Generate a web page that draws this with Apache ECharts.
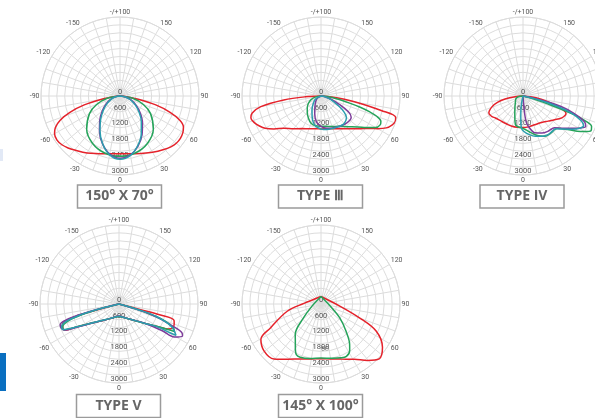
<!DOCTYPE html>
<html>
<head>
<meta charset="utf-8">
<script src="https://cdn.jsdelivr.net/npm/echarts@6/dist/echarts.min.js"></script>
<style>
  html, body { margin: 0; padding: 0; background: #fff; }
  #chart { width: 595px; height: 418px; }
</style>
</head>
<body>
<div id="chart"></div>
<script>
// each curve: [angle in degrees (0 = down, + = right side), intensity in cd]
const p1Red = [[-90,0],[-85,200],[-80,700],[-76,1400],[-72,2000],[-68,2450],[-64,2730],[-60,2870],[-55,2920],[-50,2880],[-45,2790],[-40,2680],[-30,2500],[-20,2330],[-10,2230],[0,2190],[10,2230],[20,2320],[30,2470],[40,2640],[45,2730],[50,2790],[55,2800],[60,2760],[64,2680],[68,2450],[72,2000],[76,1400],[80,700],[85,200],[90,0]];
const p1Green = [[-90,0],[-80,490],[-70,945],[-60,1340],[-45,1790],[-30,2080],[-15,2240],[0,2290],[15,2240],[30,2080],[45,1790],[60,1340],[70,945],[80,490],[90,0]];
const p1Purple = [[-90,0],[-80,185],[-70,384],[-60,610],[-50,876],[-40,1193],[-30,1559],[-20,1937],[-10,2242],[0,2362],[10,2268],[20,2014],[30,1678],[40,1328],[50,1003],[60,713],[70,456],[80,225],[90,0]];
const p1Teal = [[-90,0],[-80,170],[-70,350],[-60,560],[-50,820],[-40,1140],[-30,1520],[-20,1930],[-10,2270],[0,2400],[10,2290],[20,1990],[30,1620],[40,1260],[50,940],[60,660],[70,420],[80,205],[90,0]];

const p2Red = [[-90,0],[-87,600],[-84,1420],[-80,2320],[-76,2700],[-72.6,2790],[-68,2720],[-64,2600],[-60,2450],[-55,2180],[-49,1860],[-40,1620],[-30,1430],[-20,1320],[-10,1260],[0,1250],[10,1260],[20,1320],[30,1430],[40,1620],[50,1930],[57,2270],[60,2480],[64,2760],[68,2920],[71,2980],[74,2950],[76.5,2350],[79.4,1490],[82,900],[85,420],[90,0]];
const p2Green = [[-90,0],[-80,200],[-70,400],[-60,550],[-50,680],[-40,810],[-30,960],[-20,1100],[-10,1150],[0,1150],[10,1170],[20,1230],[30,1330],[40,1520],[50,1830],[55,2080],[60,2400],[64,2500],[67,2470],[70,2250],[72,1930],[74,1550],[76,1120],[80,600],[85,250],[90,0]];
const p2Purple = [[-90,0],[-60,150],[-45,280],[-30,460],[-20,700],[-10,1000],[0,1150],[10,1240],[20,1290],[30,1340],[40,1400],[50,1430],[55,1400],[60,1200],[65,780],[72,400],[80,150],[90,0]];
const p2Teal = [[-90,0],[-60,250],[-45,420],[-33,630],[-20,950],[-10,1170],[0,1250],[10,1290],[20,1310],[30,1340],[38,1370],[45,1330],[50,1260],[55,1080],[60,800],[70,400],[80,150],[90,0]];

const p3Red = [[-90,0],[-85,300],[-80.5,690],[-76,1000],[-71,1240],[-63.5,1450],[-57,1420],[-51.5,1340],[-40,1260],[-30,1230],[-20,1225],[-10,1210],[0,1200],[10,1190],[22,1180],[35,1230],[45,1350],[53,1500],[60,1680],[65,1760],[68,1760],[72,1500],[77,970],[82,500],[90,0]];
const p3Green = [[-90,0],[-80,180],[-70,280],[-60,330],[-48,390],[-40,470],[-30,620],[-22,830],[-15,1120],[-8,1190],[-2,1210],[5,1290],[12,1420],[20,1600],[28,1730],[33,1760],[38,1760],[43,1750],[47,1800],[52,2050],[57,2450],[60,2700],[63,2900],[66,2850],[68,2600],[70,2070],[72,1100],[74,400],[76,0]];
const p3Purple = [[4,0],[5,600],[7,1000],[10,1170],[18,1470],[27,1580],[35,1640],[45,1700],[51,1950],[56,2190],[61,2500],[64,2650],[67,2550],[71,2060],[74.5,1500],[77,800],[80,300],[82,0]];
const p3Teal = [[-20,0],[-10,400],[-6,800],[-3,1200],[1,1340],[10,1500],[17,1600],[26,1700],[33,1750],[40,1740],[45,1760],[50,1950],[56,2250],[61,2500],[64,2560],[67,2400],[70.5,1950],[73.5,1300],[76.5,600],[80,0]];

const p4Red = [[-76,0],[-75.5,560],[-75,1125],[-74.3,1650],[-73,2050],[-70.5,2280],[-67,2320],[-64.5,2300],[-61.2,1800],[-55,1280],[-41,800],[-22,560],[0,465],[21,555],[40,780],[53.5,1236],[60,1725],[63,2100],[66,2230],[70,2230],[73.5,2180],[75.2,1590],[75.5,820],[76,0]];
const p4Green = [[-77,0],[-76,600],[-74.5,1150],[-73,1700],[-71,2100],[-68,2300],[-65,2310],[-61.5,1800],[-55.5,1280],[-41.5,800],[-22,560],[0,470],[21,560],[40,790],[53.5,1240],[60,1730],[62.5,2100],[63.5,2350],[66.5,2250],[70,1800],[72,1200],[74,600],[76,0]];
const p4Purple = [[-77,0],[-76.5,600],[-75.5,1150],[-74.5,1700],[-73,2150],[-70.5,2370],[-67.5,2380],[-64.5,2300],[-61,1800],[-55,1280],[-41,790],[-22,550],[0,460],[21,550],[40,780],[53.5,1240],[58.3,1950],[59.2,2445],[63.3,2700],[65.5,2625],[67.6,2200],[71,1495],[73,800],[76,0]];
const p4Teal = [[-77,0],[-76,600],[-75,1150],[-73.5,1700],[-71.5,2150],[-68.5,2340],[-65.5,2330],[-61.3,1800],[-55.3,1280],[-41.3,800],[-22,555],[0,465],[21,555],[40,785],[53.5,1240],[59.5,1730],[60.5,2200],[61.2,2470],[67,2150],[71.5,1500],[73.5,800],[76,0]];

const p5Red = [[-70,0],[-68,700],[-66.4,1400],[-58.2,2250],[-54.6,2800],[-46.4,2990],[-37,2970],[-28,2700],[-18.4,2500],[-9,2400],[0,2360],[9,2400],[18,2500],[28,2700],[36,3000],[43,3240],[50.4,3030],[57.9,2470],[61,1670],[63,800],[66,0]];
const p5Green = [[-45,0],[-43,500],[-39.3,1050],[-34.2,1740],[-30,1950],[-26,2220],[-23,2400],[-19,2440],[-10,2390],[0,2340],[10,2380],[18,2450],[23,2470],[28,2320],[31,2110],[36,1600],[41.3,1080],[44,500],[46,0]];

const angleLabels = ['0', '30', '60', '90', '120', '150', '-/+100', '-150', '-120', '-90', '-60', '-30'];
const radiusLabels = [0, 600, 1200, 1800, 2400, 3000];
const colors = ['#e5222b', '#25a35a', '#7d3c9a', '#2b9eae'];

const plots = [
  { center: [120, 96], label: '150° X 70°', curves: [p1Red, p1Green, p1Purple, p1Teal] },
  { center: [321, 96], label: 'TYPE Ⅲ', curves: [p2Red, p2Green, p2Purple, p2Teal] },
  { center: [523, 96], label: 'TYPE IV', curves: [p3Red, p3Green, p3Purple, p3Teal] },
  { center: [119, 304], label: 'TYPE V', curves: [p4Red, p4Green, p4Purple, p4Teal] },
  { center: [321, 304], label: '145° X 100°', curves: [] }
];
// the last plot's curves sit a little above its grid centre
const p5Curves = { center: [321, 296.5], curves: [p5Red, p5Green] };

const R = 79;
const gridColor = '#dcdcdc';

const polar = [];
const angleAxis = [];
const radiusAxis = [];
const series = [];

plots.forEach((p, i) => {
  polar.push({ center: p.center, radius: R });
  angleAxis.push({
    polarIndex: i, type: 'value', min: 0, max: 360, interval: 10,
    startAngle: 270, clockwise: false,
    axisLine: { lineStyle: { color: gridColor } },
    axisTick: { show: false },
    axisLabel: {
      color: '#555', fontSize: 7, margin: 1.5, fontFamily: 'Roboto',
      formatter: v => (v % 30 === 0 && v < 360) ? angleLabels[v / 30] : ''
    },
    splitLine: { lineStyle: { color: gridColor, width: 1 } }
  });
  radiusAxis.push({
    polarIndex: i, type: 'value', min: 0, max: 3000, interval: 300,
    axisLine: { show: false }, axisTick: { show: false },
    axisLabel: {
      color: '#555', fontSize: 7.5, margin: 0, align: 'center', verticalAlign: 'bottom', fontFamily: 'Roboto',
      formatter: v => radiusLabels.includes(v) ? String(v) : ''
    },
    splitLine: { lineStyle: { color: gridColor, width: 1 } }
  });
});

// hidden overlay for plot 5 curves, larger so nothing is clipped (same px per cd)
polar.push({ center: p5Curves.center, radius: R * 1.25 });
angleAxis.push({ polarIndex: 5, type: 'value', min: 0, max: 360, startAngle: 270, clockwise: false, show: false });
radiusAxis.push({ polarIndex: 5, type: 'value', min: 0, max: 3750, show: false });

const toPolar = pts => pts.map(([a, v]) => [v, a < 0 ? a + 360 : a]);

function addCurves(curves, polarIndex) {
  curves.forEach((c, k) => {
    series.push({
      type: 'line', coordinateSystem: 'polar', polarIndex,
      data: toPolar(c), smooth: 0.35, showSymbol: false, clip: false,
      lineStyle: { color: colors[k], width: 1.5 }, silent: true, z: 3
    });
  });
}
plots.forEach((p, i) => addCurves(p.curves, i));
addCurves(p5Curves.curves, 5);

// caption boxes under each diagram
const boxes = [
  [119.5, 196.5], [320.5, 196.5], [522, 196.5], [118.5, 406], [320.5, 406]
];
const graphic = [];
boxes.forEach((b, i) => {
  graphic.push({
    type: 'rect', shape: { x: b[0] - 42, y: b[1] - 11.5, width: 84, height: 23 },
    style: { fill: '#fff', stroke: '#9b9b9b', lineWidth: 1.5 }
  });
  graphic.push({
    type: 'text', x: b[0], y: b[1],
    style: { text: plots[i].label, fill: '#666', font: 'bold 14px "Open Sans"', textAlign: 'center', textVerticalAlign: 'middle' }
  });
});
// stray overlapping tick text in the last diagram
graphic.push({ type: 'text', x: 325, y: 349, style: { text: '60', fill: '#555', font: '7px Roboto', textAlign: 'center', textVerticalAlign: 'middle' } });
// page-edge fragments
graphic.push({ type: 'rect', shape: { x: 0, y: 353, width: 6, height: 38 }, style: { fill: '#0a6fc0' } });
graphic.push({ type: 'rect', shape: { x: 0, y: 149, width: 3, height: 12 }, style: { fill: '#e2e9f6' } });

const chart = echarts.init(document.getElementById('chart'));
chart.setOption({
  animation: false,
  polar, angleAxis, radiusAxis, series, graphic
});
</script>
</body>
</html>
